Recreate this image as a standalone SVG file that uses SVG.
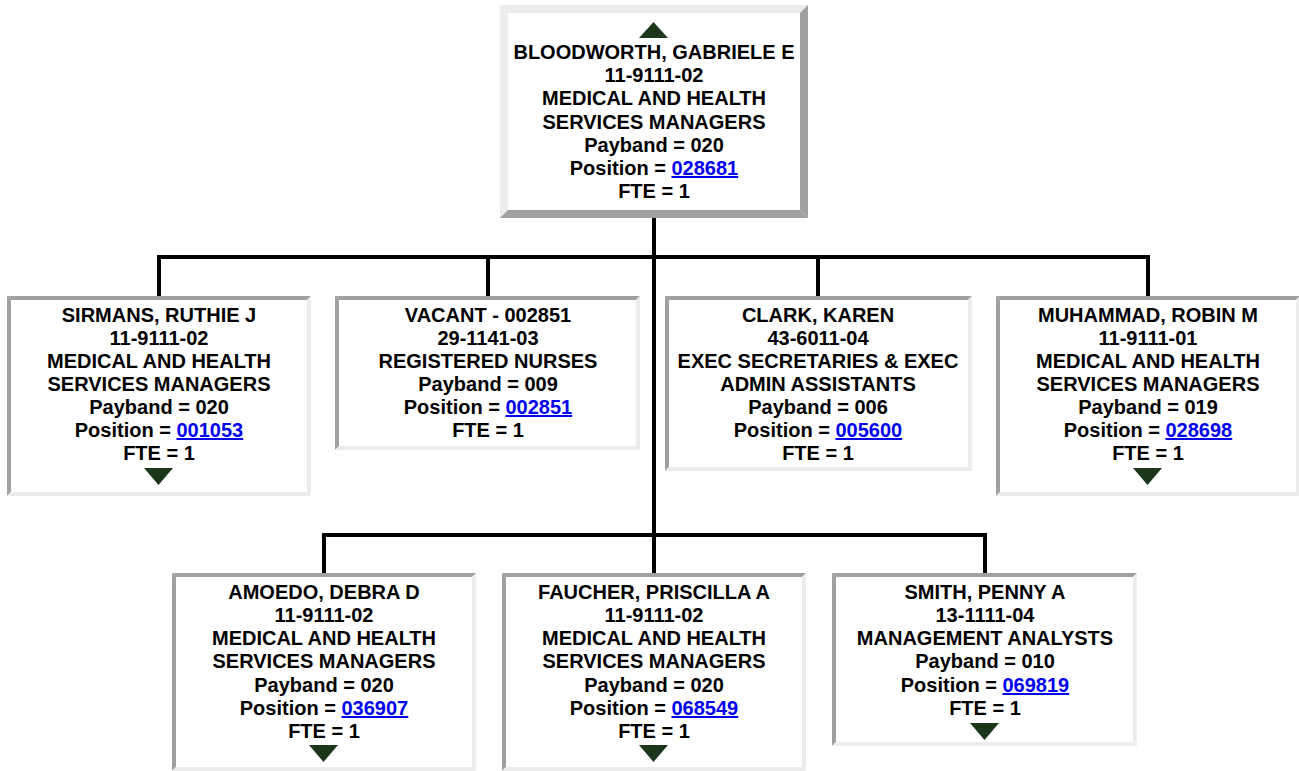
<svg xmlns="http://www.w3.org/2000/svg" width="1299" height="771" viewBox="0 0 1299 771">
<style>
.bg{fill:#ffffff}
.dk{fill:#a0a0a0}
.lt{fill:#ececec}
.t{font-family:"Liberation Sans",Arial,Helvetica,sans-serif;font-weight:bold;font-size:20px;fill:#000;text-anchor:middle}
.lnk{fill:#0000ee;text-decoration:underline}
.tri{fill:#1c361c}
.ln{stroke:#000;stroke-width:4;fill:none}
</style>
<rect x="0" y="0" width="1299" height="771" fill="#ffffff"/>
<g id="connectors">
<path class="ln" d="M654 218V573"/>
<path class="ln" d="M157 257H1150"/>
<path class="ln" d="M159 257V296M488 257V296M818 257V296M1148 257V296"/>
<path class="ln" d="M322 535H987"/>
<path class="ln" d="M324 535V573M985 535V573"/>
</g>
<g id="root">
<rect class="bg" x="500" y="5" width="308" height="213"/>
<polygon class="lt" points="500,5 808,5 800,13 508,13"/>
<polygon class="lt" points="500,5 508,13 508,210 500,218"/>
<polygon class="dk" points="500,218 508,210 800,210 808,218"/>
<polygon class="dk" points="808,5 808,218 800,210 800,13"/>
<polygon class="tri" points="639,38 668,38 653.5,22"/>
<text class="t" x="654" y="59">BLOODWORTH, GABRIELE E</text>
<text class="t" x="654" y="82.2">11-9111-02</text>
<text class="t" x="654" y="105.4">MEDICAL AND HEALTH</text>
<text class="t" x="654" y="128.6">SERVICES MANAGERS</text>
<text class="t" x="654" y="151.8">Payband = 020</text>
<text class="t" x="654" y="175">Position = <tspan class="lnk">028681</tspan></text>
<text class="t" x="654" y="198.2">FTE = 1</text>
</g>
<g id="sirmans">
<rect class="bg" x="7" y="296" width="304" height="200"/>
<polygon class="dk" points="7,296 311,296 307,300 11,300"/>
<polygon class="dk" points="7,296 11,300 11,492 7,496"/>
<polygon class="lt" points="7,496 11,492 307,492 311,496"/>
<polygon class="lt" points="311,296 311,496 307,492 307,300"/>
<text class="t" x="159" y="322">SIRMANS, RUTHIE J</text>
<text class="t" x="159" y="345">11-9111-02</text>
<text class="t" x="159" y="368">MEDICAL AND HEALTH</text>
<text class="t" x="159" y="391">SERVICES MANAGERS</text>
<text class="t" x="159" y="414">Payband = 020</text>
<text class="t" x="159" y="437">Position = <tspan class="lnk">001053</tspan></text>
<text class="t" x="159" y="460">FTE = 1</text>
<polygon class="tri" points="144,468 173,468 158.5,485"/>
</g>
<g id="vacant">
<rect class="bg" x="335" y="296" width="305" height="154"/>
<polygon class="dk" points="335,296 640,296 636,300 339,300"/>
<polygon class="dk" points="335,296 339,300 339,446 335,450"/>
<polygon class="lt" points="335,450 339,446 636,446 640,450"/>
<polygon class="lt" points="640,296 640,450 636,446 636,300"/>
<text class="t" x="488" y="322">VACANT - 002851</text>
<text class="t" x="488" y="345">29-1141-03</text>
<text class="t" x="488" y="368">REGISTERED NURSES</text>
<text class="t" x="488" y="391">Payband = 009</text>
<text class="t" x="488" y="414">Position = <tspan class="lnk">002851</tspan></text>
<text class="t" x="488" y="437">FTE = 1</text>
</g>
<g id="clark">
<rect class="bg" x="665" y="296" width="307" height="175"/>
<polygon class="dk" points="665,296 972,296 968,300 669,300"/>
<polygon class="dk" points="665,296 669,300 669,467 665,471"/>
<polygon class="lt" points="665,471 669,467 968,467 972,471"/>
<polygon class="lt" points="972,296 972,471 968,467 968,300"/>
<text class="t" x="818" y="322">CLARK, KAREN</text>
<text class="t" x="818" y="345">43-6011-04</text>
<text class="t" x="818" y="368">EXEC SECRETARIES &amp; EXEC</text>
<text class="t" x="818" y="391">ADMIN ASSISTANTS</text>
<text class="t" x="818" y="414">Payband = 006</text>
<text class="t" x="818" y="437">Position = <tspan class="lnk">005600</tspan></text>
<text class="t" x="818" y="460">FTE = 1</text>
</g>
<g id="muhammad">
<rect class="bg" x="996" y="296" width="304" height="200"/>
<polygon class="dk" points="996,296 1300,296 1296,300 1000,300"/>
<polygon class="dk" points="996,296 1000,300 1000,492 996,496"/>
<polygon class="lt" points="996,496 1000,492 1296,492 1300,496"/>
<polygon class="lt" points="1300,296 1300,496 1296,492 1296,300"/>
<text class="t" x="1148" y="322">MUHAMMAD, ROBIN M</text>
<text class="t" x="1148" y="345">11-9111-01</text>
<text class="t" x="1148" y="368">MEDICAL AND HEALTH</text>
<text class="t" x="1148" y="391">SERVICES MANAGERS</text>
<text class="t" x="1148" y="414">Payband = 019</text>
<text class="t" x="1148" y="437">Position = <tspan class="lnk">028698</tspan></text>
<text class="t" x="1148" y="460">FTE = 1</text>
<polygon class="tri" points="1133,468 1162,468 1147.5,485"/>
</g>
<g id="amoedo">
<rect class="bg" x="172" y="573" width="304" height="198"/>
<polygon class="dk" points="172,573 476,573 472,577 176,577"/>
<polygon class="dk" points="172,573 176,577 176,767 172,771"/>
<polygon class="lt" points="172,771 176,767 472,767 476,771"/>
<polygon class="lt" points="476,573 476,771 472,767 472,577"/>
<text class="t" x="324" y="599">AMOEDO, DEBRA D</text>
<text class="t" x="324" y="622">11-9111-02</text>
<text class="t" x="324" y="645">MEDICAL AND HEALTH</text>
<text class="t" x="324" y="668">SERVICES MANAGERS</text>
<text class="t" x="324" y="692">Payband = 020</text>
<text class="t" x="324" y="715">Position = <tspan class="lnk">036907</tspan></text>
<text class="t" x="324" y="738">FTE = 1</text>
<polygon class="tri" points="309,745 338,745 323.5,762"/>
</g>
<g id="faucher">
<rect class="bg" x="502" y="573" width="304" height="198"/>
<polygon class="dk" points="502,573 806,573 802,577 506,577"/>
<polygon class="dk" points="502,573 506,577 506,767 502,771"/>
<polygon class="lt" points="502,771 506,767 802,767 806,771"/>
<polygon class="lt" points="806,573 806,771 802,767 802,577"/>
<text class="t" x="654" y="599">FAUCHER, PRISCILLA A</text>
<text class="t" x="654" y="622">11-9111-02</text>
<text class="t" x="654" y="645">MEDICAL AND HEALTH</text>
<text class="t" x="654" y="668">SERVICES MANAGERS</text>
<text class="t" x="654" y="692">Payband = 020</text>
<text class="t" x="654" y="715">Position = <tspan class="lnk">068549</tspan></text>
<text class="t" x="654" y="738">FTE = 1</text>
<polygon class="tri" points="639,745 668,745 653.5,762"/>
</g>
<g id="smith">
<rect class="bg" x="832" y="573" width="305" height="173"/>
<polygon class="dk" points="832,573 1137,573 1133,577 836,577"/>
<polygon class="dk" points="832,573 836,577 836,742 832,746"/>
<polygon class="lt" points="832,746 836,742 1133,742 1137,746"/>
<polygon class="lt" points="1137,573 1137,746 1133,742 1133,577"/>
<text class="t" x="985" y="599">SMITH, PENNY A</text>
<text class="t" x="985" y="622">13-1111-04</text>
<text class="t" x="985" y="645">MANAGEMENT ANALYSTS</text>
<text class="t" x="985" y="668">Payband = 010</text>
<text class="t" x="985" y="692">Position = <tspan class="lnk">069819</tspan></text>
<text class="t" x="985" y="715">FTE = 1</text>
<polygon class="tri" points="970,723 999,723 984.5,740"/>
</g>
</svg>
